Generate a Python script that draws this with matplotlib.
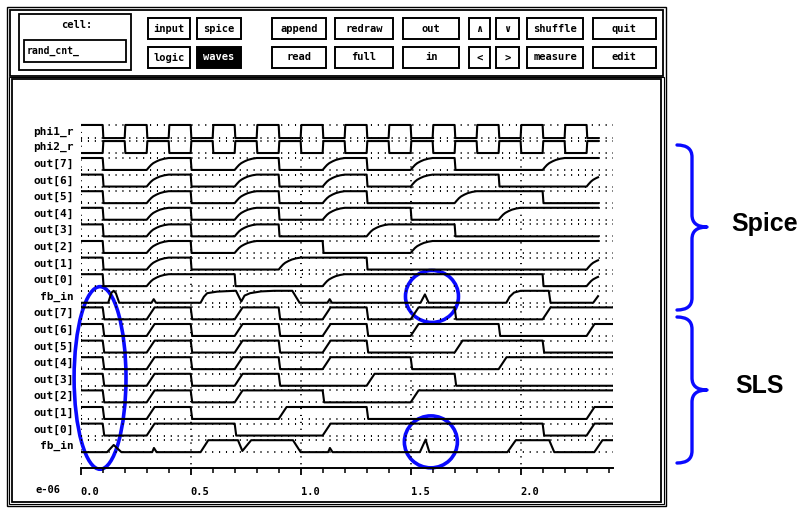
import numpy as np
import matplotlib
matplotlib.use("Agg")
import matplotlib.pyplot as plt
from matplotlib.patches import Rectangle, Ellipse, PathPatch
from matplotlib.path import Path

# ---- values (time axis in units of 1e-6 s) ----
clock_edges = [0.1, 0.3, 0.5, 0.7, 0.9, 1.1, 1.3, 1.5, 1.7, 1.9, 2.1, 2.3]
phi_edges = [0.1, 0.2, 0.3, 0.4, 0.5, 0.6, 0.7, 0.8, 0.9, 1.0, 1.1, 1.2,
             1.3, 1.4, 1.5, 1.6, 1.7, 1.8, 1.9, 2.0, 2.1, 2.2, 2.3]
phi1_bits = [1, 0, 1, 0, 1, 0, 1, 0, 1, 0, 1, 0, 1, 0, 1, 0, 1, 0, 1, 0, 1, 0, 1, 0]
phi2_bits = [0, 1, 0, 1, 0, 1, 0, 1, 0, 1, 0, 1, 0, 1, 0, 1, 0, 1, 0, 1, 0, 1, 0, 1]

# level of each output before the first edge and after every clock edge
out7_bits = [1, 0, 1, 0, 1, 0, 1, 0, 1, 0, 0, 1, 1]
out6_bits = [1, 0, 1, 0, 1, 0, 1, 0, 1, 1, 0, 0, 1]
out5_bits = [1, 0, 1, 0, 1, 0, 1, 0, 0, 1, 1, 0, 0]
out4_bits = [1, 0, 1, 0, 1, 0, 1, 1, 0, 0, 1, 1, 1]
out3_bits = [1, 0, 1, 0, 1, 0, 0, 1, 1, 0, 0, 0, 0]
out2_bits = [1, 0, 1, 0, 1, 1, 0, 0, 1, 1, 1, 1, 1]
out1_bits = [1, 0, 1, 0, 0, 1, 1, 0, 0, 0, 0, 0, 1]
out0_bits = [1, 0, 1, 1, 0, 0, 1, 1, 1, 1, 1, 0, 1]
out_names = ["out[7]", "out[6]", "out[5]", "out[4]", "out[3]", "out[2]", "out[1]", "out[0]"]
out_bits = [out7_bits, out6_bits, out5_bits, out4_bits, out3_bits, out2_bits, out1_bits, out0_bits]

# fb_in is drawn point by point (glitches, slow edges)
fb_spice_t = [0.0, 0.125, 0.14, 0.15, 0.16, 0.175, 0.322, 0.332, 0.342, 0.545, 0.56, 0.575,
              0.62, 0.7, 0.706, 0.73, 0.745, 0.77, 0.82, 0.88, 0.962, 0.995, 1.122, 1.132,
              1.142, 1.545, 1.565, 1.582, 1.935, 1.95, 1.97, 2.0, 2.128, 2.136, 2.33, 2.352]
fb_spice_v = [0, 0, 0.85, 1.0, 0.8, 0, 0, 0.3, 0, 0, 0.5, 0.8,
              0.93, 1.0, 1.0, 0.1, 0.6, 0.8, 0.95, 1.0, 1.0, 0, 0, 0.3,
              0, 0, 0.7, 0, 0, 0.5, 0.85, 1.0, 1.0, 0, 0, 0.55]
fb_sls_t = [0.0, 0.12, 0.15, 0.185, 0.325, 0.333, 0.345, 0.545, 0.58, 0.715, 0.735, 0.775,
            0.965, 1.0, 1.125, 1.133, 1.145, 1.542, 1.568, 1.585, 1.94, 1.978, 2.13, 2.153,
            2.335, 2.372, 2.418]
fb_sls_v = [0, 0, 0.6, 0, 0, 0.35, 0, 0, 1, 1, 0.1, 1,
            1, 0, 0, 0.35, 0, 0, 1.05, 0, 0, 1, 1, 0,
            0, 1, 1]

# edge shapes: spice rises slowly, sls ramps linearly
spice_rise_dt = [0, 0.01, 0.02, 0.03, 0.045, 0.06, 0.08, 0.1]
spice_rise_v = [0, 0.22, 0.42, 0.57, 0.72, 0.84, 0.94, 1.0]
sls_rise_dt = [0, 0.036]
sls_rise_v = [0, 1]
sharp_dt = [0, 0.003]
sharp_v = [0, 1]
spice_end = 2.352
sls_end = 2.418

major_ticks = [0.0, 0.5, 1.0, 1.5, 2.0]
major_labels = ["0.0", "0.5", "1.0", "1.5", "2.0"]
minor_ticks = [0.1, 0.2, 0.3, 0.4, 0.6, 0.7, 0.8, 0.9, 1.1, 1.2, 1.3, 1.4,
               1.6, 1.7, 1.8, 1.9, 2.1, 2.2, 2.3, 2.4]

btn_row1 = ["input", "spice", "append", "redraw", "out", "\u2227", "\u2228", "shuffle", "quit"]
btn_row2 = ["logic", "waves", "read", "full", "in", "<", ">", "measure", "edit"]


def build(bits, edges, rise_dt, rise_v, fall_dt, t_end):
    t = [0.0]
    v = [bits[0]]
    for e, a, b in zip(edges, bits[:-1], bits[1:]):
        if a == b:
            continue
        if b > a:
            t += [e + d for d in rise_dt]
            v += list(rise_v)
        else:
            t += [e, e + fall_dt]
            v += [1, 0]
    t.append(t_end + 0.3)
    v.append(bits[-1])
    t = np.array(t)
    v = np.array(v, float)
    keep = t < t_end
    return np.append(t[keep], t_end), np.append(v[keep], np.interp(t_end, t, v))


W, H = 810, 508
fig = plt.figure(figsize=(W / 100, H / 100), dpi=100)
fig.patch.set_facecolor("white")
mono = "DejaVu Sans Mono"

# ---- window decoration (pixel coordinates) ----
ui = fig.add_axes([0, 0, 1, 1])
ui.set_xlim(0, W)
ui.set_ylim(H, 0)
ui.axis("off")

ui.add_patch(Rectangle((7, 7), 659, 499, fill=False, lw=1.0, ec="black"))
ui.add_patch(Rectangle((10, 10), 653, 66, fill=False, lw=1.3, ec="black"))
ui.add_patch(Rectangle((12, 79), 649, 423, fill=False, lw=1.3, ec="black"))
ui.add_patch(Rectangle((9, 77), 655, 427, fill=False, lw=0.8, ec="black"))

ui.add_patch(Rectangle((19, 14), 112, 56, fill=False, lw=1.3, ec="black"))
ui.text(77, 25, "cell:", fontsize=7.5, family=mono, fontweight="bold",
        ha="center", va="center")
ui.add_patch(Rectangle((24, 40), 102, 22, fill=False, lw=1.3, ec="black"))
ui.text(27, 51, "rand_cnt_", fontsize=7, family=mono, fontweight="bold",
        ha="left", va="center")

btn_x = [(148, 190), (197, 241), (272, 326), (335, 393), (403, 459),
         (469, 490), (496, 519), (527, 583), (593, 656)]
for row, (labels, y0) in enumerate([(btn_row1, 18), (btn_row2, 47)]):
    for lab, (x0, x1) in zip(labels, btn_x):
        inverted = lab == "waves"
        ui.add_patch(Rectangle((x0, y0), x1 - x0, 21, lw=1.4, ec="black",
                               fc="black" if inverted else "none"))
        ui.text((x0 + x1) / 2, y0 + 10.5, lab, fontsize=7.5, family=mono,
                fontweight="bold", ha="center", va="center",
                color="white" if inverted else "black")

# ---- waveform area: x in 1e-6 s, y in row units (1 row = 16.6 px) ----
row_px = 16.6
y_top_px, y_bot_px, y0_px = 105, 500, 158
ax = fig.add_axes([80.7 / W, 1 - y_bot_px / H, (613 - 80.7) / W, (y_bot_px - y_top_px) / H])
ax.set_facecolor("none")
ax.set_xlim(0, 2.42)
ax.set_ylim((y_bot_px - y0_px) / row_px, (y_top_px - y0_px) / row_px)

amp = 0.72
phi1_hi, phi1_lo = -1.99, -1.2
phi2_hi, phi2_lo = -1.02, -0.30
axis_y = 18.66

dot = dict(color="black", lw=1.4, linestyle=(0, (0.55, 3.0)))
levels = [phi1_hi, phi1_lo, phi2_hi, phi2_lo]
for r in range(18):
    levels += [r, r + amp]
ax.hlines(levels, 0, 2.42, **dot)
ax.vlines(major_ticks, phi1_hi, axis_y, **dot)

wave = dict(color="black", lw=1.5, solid_joinstyle="round")
t, v = build(phi1_bits, phi_edges, sharp_dt, sharp_v, 0.003, spice_end)
ax.plot(t, phi1_lo + v * (phi1_hi - phi1_lo), **wave)
t, v = build(phi2_bits, phi_edges, sharp_dt, sharp_v, 0.003, spice_end)
ax.plot(t, phi2_lo + v * (phi2_hi - phi2_lo), **wave)

for i, bits in enumerate(out_bits):
    t, v = build(bits, clock_edges, spice_rise_dt, spice_rise_v, 0.004, spice_end)
    ax.plot(t, i + (1 - v) * amp, **wave)
    t, v = build(bits, clock_edges, sls_rise_dt, sls_rise_v, 0.007, sls_end)
    ax.plot(t, 9 + i + (1 - v) * amp, **wave)
ax.plot(fb_spice_t, 8 + (1 - np.array(fb_spice_v)) * amp, **wave)
ax.plot(fb_sls_t, 17 + (1 - np.array(fb_sls_v)) * amp, **wave)

# signal names
lab_kw = dict(ha="right", va="center", fontsize=8, family=mono,
              fontweight="bold", clip_on=False)
names = out_names + ["fb_in"]
ax.text(-0.03, (phi1_hi + phi1_lo) / 2, "phi1_r", **lab_kw)
ax.text(-0.03, (phi2_hi + phi2_lo) / 2, "phi2_r", **lab_kw)
for i, nm in enumerate(names + names):
    ax.text(-0.03, i + amp / 2, nm, **lab_kw)

# time axis
for s in ["top", "left", "right"]:
    ax.spines[s].set_visible(False)
ax.spines["bottom"].set_position(("data", axis_y))
ax.spines["bottom"].set_linewidth(1.4)
ax.set_yticks([])
ax.set_xticks(major_ticks, labels=major_labels)
ax.set_xticks(minor_ticks, minor=True)
ax.tick_params(axis="x", which="major", direction="out", length=5, width=1.3,
               pad=9, labelsize=7.5)
ax.tick_params(axis="x", which="minor", direction="out", length=3.5, width=1.1)
for lbl in ax.get_xticklabels():
    lbl.set_family(mono)
    lbl.set_fontweight("bold")
    lbl.set_horizontalalignment("left")
ax.text(-0.205, 20.0, "e-06", ha="left", va="center", fontsize=7.5, family=mono,
        fontweight="bold", clip_on=False)

# blue annotations
blue = "#0a0aff"
ax.add_patch(Ellipse((0.088, 13.25), 0.236, 11.0, fill=False, ec=blue, lw=2.6, clip_on=False))
ax.add_patch(Ellipse((1.597, 8.34), 0.241, 3.13, fill=False, ec=blue, lw=2.6, clip_on=False))
ax.add_patch(Ellipse((1.592, 17.1), 0.241, 3.13, fill=False, ec=blue, lw=2.6, clip_on=False))


def brace(x0, x1, x2, ytop, ymid, ybot, r=12):
    verts = [(x0, ytop), (x1, ytop), (x1, ytop + r), (x1, ymid - r),
             (x1, ymid), (x2, ymid), (x1, ymid), (x1, ymid + r),
             (x1, ybot - r), (x1, ybot), (x0, ybot)]
    codes = [Path.MOVETO, Path.CURVE3, Path.CURVE3, Path.LINETO,
             Path.CURVE3, Path.CURVE3, Path.CURVE3, Path.CURVE3,
             Path.LINETO, Path.CURVE3, Path.CURVE3]
    ui.add_patch(PathPatch(Path(verts, codes), fill=False, ec=blue, lw=2.4,
                           capstyle="round", joinstyle="round"))


brace(677, 692, 707, 145, 227, 310)
brace(677, 692, 707, 317, 390, 463)
ui.text(765, 224, "Spice", fontsize=18, fontweight="bold", family="Liberation Sans",
        ha="center", va="center")
ui.text(760, 386, "SLS", fontsize=18, fontweight="bold", family="Liberation Sans",
        ha="center", va="center")

fig.savefig("out.png", dpi=100, facecolor="white")
